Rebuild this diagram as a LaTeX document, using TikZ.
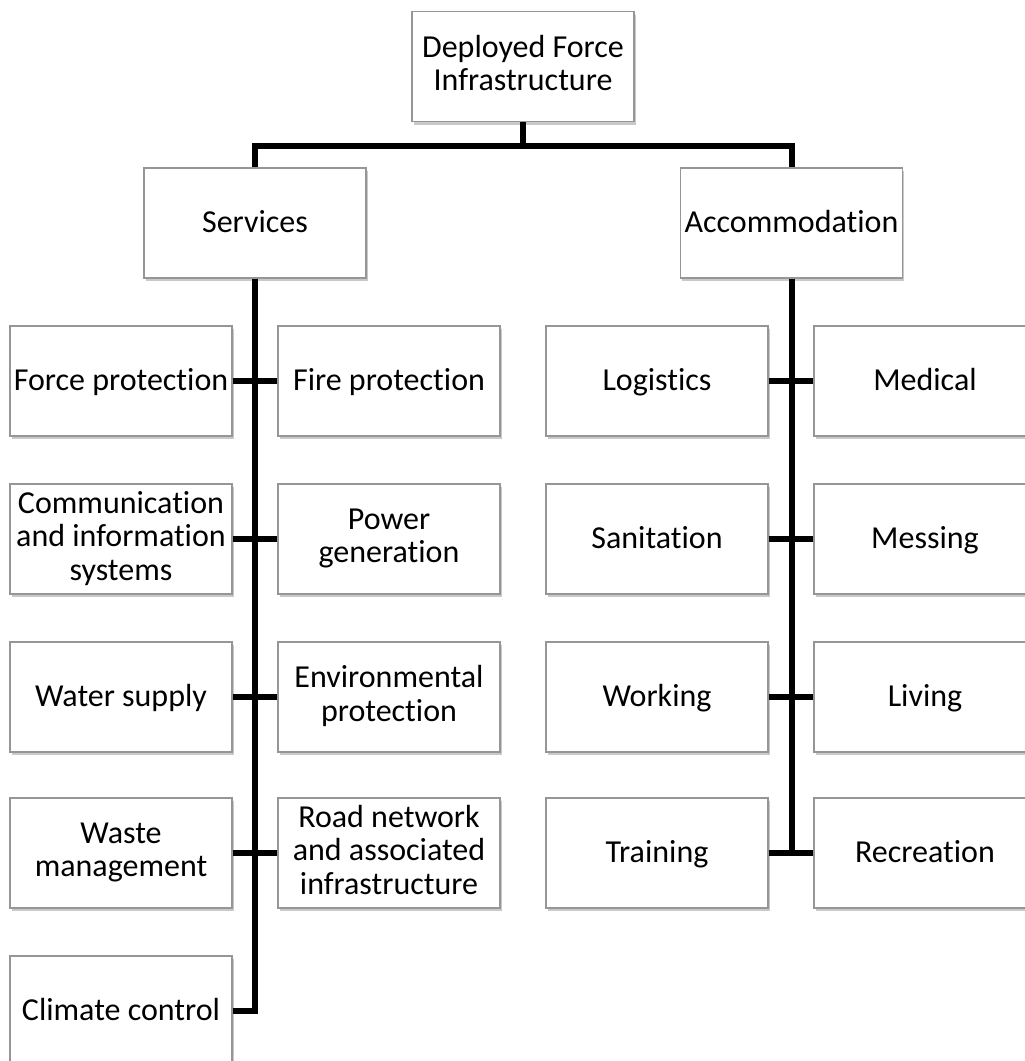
\documentclass[tikz,border=0pt]{standalone}
\usepackage{fontspec}
\setmainfont{Carlito}[Ligatures={NoCommon}]
\usetikzlibrary{shadows}
\definecolor{boxgray}{RGB}{150,150,150}
\newcommand{\bxstrut}{\rule[-7pt]{0pt}{33pt}}
\begin{document}
\begin{tikzpicture}[x=1pt,y=-1pt,
  box/.style={draw=boxgray, line width=1.2pt, fill=white,
    minimum width=222pt, minimum height=110pt, inner sep=0pt,
    align=center, font=\fontsize{32}{33.5}\selectfont,
    execute at begin node=\bxstrut, execute at end node=\bxstrut,
    drop shadow={shadow xshift=1.5pt, shadow yshift=-3pt, opacity=0.3, fill=black!70}},
  conn/.style={line width=6pt, black}]
\useasboundingbox (0,0) rectangle (1025,1061);
\clip (0,0) rectangle (1025,1061);
% top levels
\node[box] (top) at (523,66.5) {Deployed Force\\Infrastructure};
\node[box] (serv) at (255,223) {Services};
\node[box] (acc) at (791.5,223) {Accommodation};
% services column
\node[box] (forcep) at (121,381) {Force protection};
\node[box] (firep) at (389,381) {Fire protection};
\node[box] (comm) at (121,539) {Communication\\and information\\systems};
\node[box] (power) at (389,539) {Power\\generation};
\node[box] (water) at (121,697) {Water supply};
\node[box] (env) at (389,697) {Environmental\\protection};
\node[box] (waste) at (121,853) {Waste\\management};
\node[box] (road) at (389,853) {Road network\\and associated\\infrastructure};
\node[box] (clim) at (121,1011) {Climate control};
% accommodation column
\node[box] (logi) at (657,381) {Logistics};
\node[box] (med) at (925,381) {Medical};
\node[box] (sani) at (657,539) {Sanitation};
\node[box] (mess) at (925,539) {Messing};
\node[box] (work) at (657,697) {Working};
\node[box] (liv) at (925,697) {Living};
\node[box] (train) at (657,853) {Training};
\node[box] (recr) at (925,853) {Recreation};
% connectors
\coordinate (bar) at (523,146);
\draw[conn] (top.south) -- (bar);
\draw[conn] (bar) -| (serv.north);
\draw[conn] (bar) -| (acc.north);
\draw[conn] (serv.south) |- (clim.east);
\coordinate (accend) at (791.5,853);
\draw[conn] (acc.south) -- (accend);
\draw[conn] (forcep.east) -- (firep.west);
\draw[conn] (comm.east) -- (power.west);
\draw[conn] (water.east) -- (env.west);
\draw[conn] (waste.east) -- (road.west);
\draw[conn] (logi.east) -- (med.west);
\draw[conn] (sani.east) -- (mess.west);
\draw[conn] (work.east) -- (liv.west);
\draw[conn] (train.east) -- (recr.west);
\end{tikzpicture}
\end{document}
